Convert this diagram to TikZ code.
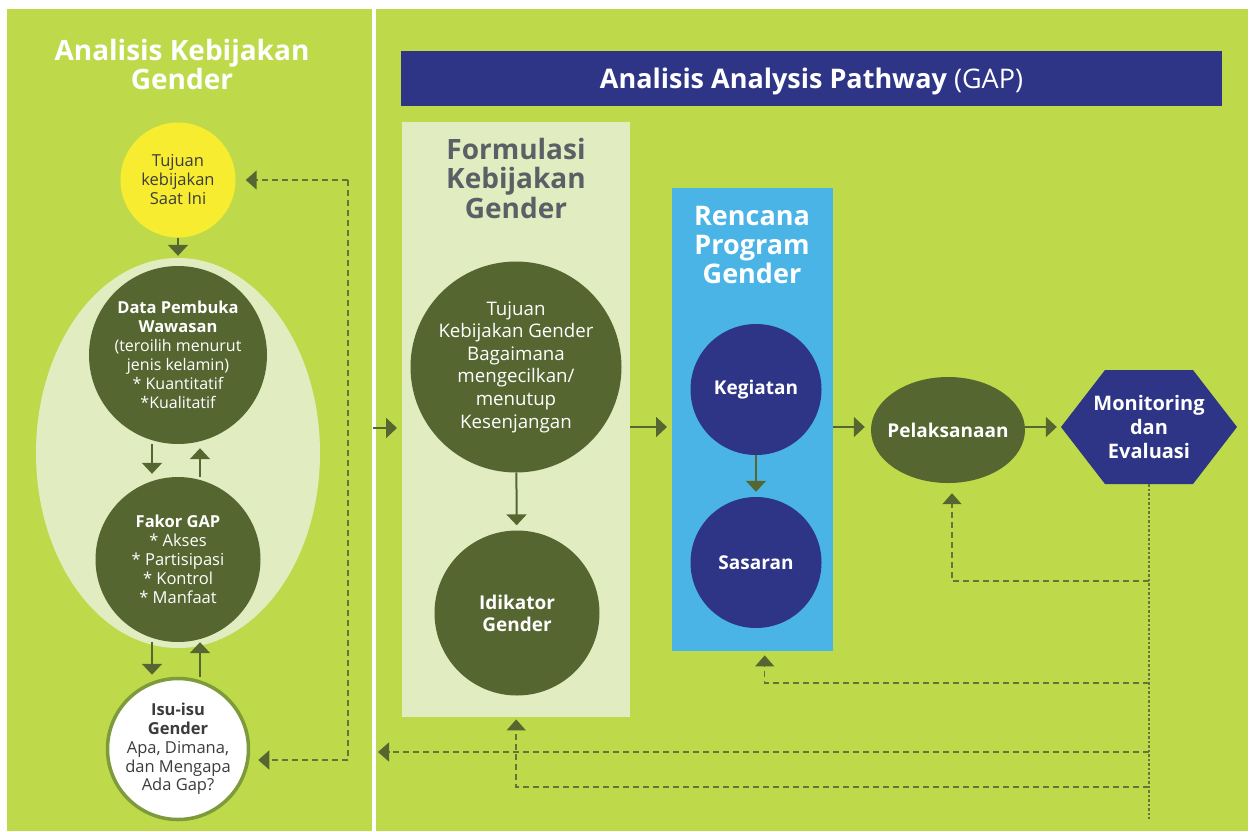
\documentclass[tikz,border=0pt]{standalone}
\usepackage{fontspec}
\setmainfont{Open Sans}
\usetikzlibrary{arrows.meta,shapes.geometric,calc}
\definecolor{panelg}{HTML}{BEDA4B}
\definecolor{lightg}{HTML}{E1EDC1}
\definecolor{oliv}{HTML}{556631}
\definecolor{yell}{HTML}{F7EC30}
\definecolor{navyc}{HTML}{2E3586}
\definecolor{skyc}{HTML}{4AB4E6}
\definecolor{titgray}{HTML}{5B6066}
\definecolor{txtgray}{HTML}{3C3C3C}
\definecolor{ringc}{HTML}{7E9B3C}
\definecolor{dashc}{HTML}{66743C}
\newcommand\mybold[1]{{\fontsize{16.5}{19}\selectfont\bfseries #1}}
\begin{document}
\begin{tikzpicture}[x=1pt,y=-1pt,
  arr/.style={draw=oliv, line width=2pt, -{Triangle[width=20pt,length=11pt]}},
  fb/.style={draw=dashc, line width=1.5pt, dash pattern=on 6pt off 4pt, -{Triangle[width=19pt,length=11pt,color=oliv]}},
  fbline/.style={draw=dashc, line width=1.5pt, dash pattern=on 6pt off 4pt},
  dotv/.style={draw=dashc, line width=1.5pt, dash pattern=on 2.5pt off 2pt},
  disc/.style={circle, inner sep=-6pt, align=center, text=white},
]
\fill[white] (0,0) rectangle (1251,831);
\useasboundingbox (0,0) rectangle (1251,831);
\fill[panelg] (7,9) rectangle (372,831);
\fill[panelg] (376,9) rectangle (1248,831);

% left panel
\node[text=white, align=center, font=\fontsize{28}{26}\selectfont\bfseries] (ltitle) at (182,64) {Analisis Kebijakan\\Gender};
\node[ellipse, fill=lightg, minimum width=284pt, minimum height=390pt, inner sep=0pt] (bigell) at (178,453) {};
\node[disc, fill=yell, minimum size=115pt, text=txtgray, font=\fontsize{16.5}{19}\selectfont] (yel) at (178,180) {Tujuan\\kebijakan\\Saat Ini};
\node[disc, fill=oliv, minimum size=178pt, font=\fontsize{16}{19}\selectfont] (data) at (178,355) {\mybold{Data Pembuka}\\\mybold{Wawasan}\\(teroilih menurut\\jenis kelamin)\\* Kuantitatif\\*Kualitatif};
\node[disc, fill=oliv, minimum size=165pt, font=\fontsize{16.5}{19}\selectfont] (fakor) at (178,559.5) {\mybold{Fakor GAP}\\* Akses\\* Partisipasi\\* Kontrol\\* Manfaat};
\node[disc, fill=white, draw=ringc, line width=3.5pt, minimum size=141pt, text=txtgray, font=\fontsize{16.5}{18.8}\selectfont] (isu) at (178,749) {\mybold{Isu-isu}\\\mybold{Gender}\\Apa, Dimana,\\dan Mengapa\\Ada Gap?};

% right panel
\node[fill=navyc, minimum width=821pt, minimum height=55pt, inner sep=0pt, text height=20pt, text depth=0pt, text=white, font=\fontsize{27}{30}\selectfont] (hdr) at (811.5,78.5) {\textbf{Analisis Analysis Pathway} (GAP)};
\node[fill=lightg, minimum width=228pt, minimum height=595pt, inner sep=0pt, anchor=north west] (form) at (402,122) {};
\node[fill=skyc, minimum width=161pt, minimum height=463pt, inner sep=0pt, anchor=north west] (renc) at (672,188) {};
\node[text=titgray, align=center, font=\fontsize{28}{29.5}\selectfont\bfseries] (formt) at (516,178) {Formulasi\\Kebijakan\\Gender};
\node[text=white, align=center, font=\fontsize{27}{29}\selectfont\bfseries] (renct) at (752,245) {Rencana\\Program\\Gender};
\node[disc, fill=oliv, minimum size=211pt, font=\fontsize{18.7}{22.6}\selectfont] (tuj) at (516,367) {Tujuan\\Kebijakan Gender\\Bagaimana\\mengecilkan/\\menutup\\Kesenjangan};
\node[disc, fill=oliv, minimum size=165pt, font=\fontsize{19}{22}\selectfont\bfseries] (idk) at (517,613) {Idikator\\Gender};
\node[disc, fill=navyc, minimum size=131pt, font=\fontsize{19}{22}\selectfont\bfseries] (keg) at (756,389.5) {Kegiatan};
\node[disc, fill=navyc, minimum size=131pt, font=\fontsize{19}{22}\selectfont\bfseries] (sas) at (756,562.5) {Sasaran};
\node[ellipse, fill=oliv, minimum width=154pt, minimum height=106pt, inner sep=0pt, inner xsep=-12pt, text=white, font=\fontsize{19}{22}\selectfont\bfseries] (pel) at (948,430) {Pelaksanaan};
\fill[navyc] (1061,427) -- (1105,370) -- (1193,370) -- (1237,427) -- (1193,484) -- (1105,484) -- cycle;
\node[minimum width=176pt, minimum height=114pt, inner sep=0pt, text=white, align=center, font=\fontsize{20}{24}\selectfont\bfseries] (mon) at (1149,427) {Monitoring\\dan\\Evaluasi};

% solid arrows
\draw[arr, shorten >=2pt] (yel) -- (bigell.north);
\draw[arr, shorten >=3pt] ([xshift=-26pt]data.south) -- ([xshift=-26pt]fakor.north);
\draw[arr, shorten >=4pt] ([xshift=22pt]fakor.north) -- ([xshift=22pt]data.south);
\draw[arr, shorten >=2pt] ([xshift=-26pt]fakor.south) -- ([xshift=-26pt]isu.north);
\draw[arr] ([xshift=22pt]isu.north) -- ([xshift=22pt]fakor.south);
\coordinate (ein) at (373,428);
\coordinate (ay) at (0,427);
\draw[arr, shorten >=5pt] (ein) -- (ein -| form.west);
\draw[arr, shorten >=5pt] (form.east |- ay) -- (renc.west |- ay);
\draw[arr, shorten >=6pt] (renc.east |- ay) -- (pel.west |- ay);
\draw[arr, shorten >=4pt] (pel.east |- ay) -- (mon.west |- ay);
\draw[arr, shorten >=5pt] (tuj) -- (idk);
\draw[arr, shorten >=5pt] (keg) -- (sas);

% feedback lines
\coordinate (mbot) at (1149,819);
\draw[dotv] (mon.south) -- (mbot);
\coordinate (b1) at (1149,581);
\coordinate (b2) at (1149,683);
\coordinate (b3) at (1149,752);
\coordinate (b4) at (1149,787);
\coordinate (fbL) at (378,752);
\draw[fb, shorten >=10pt] (b1) -| ([xshift=4pt]pel.south);
\draw[fb, shorten >=4pt] (b2) -| ([xshift=12pt]renc.south);
\draw[fb] (b3) -- (fbL);
\draw[fb, shorten >=2pt] (b4) -| (form.south);
\coordinate (lc1) at (348,180);
\coordinate (lc2) at (348,760);
\draw[fbline] (lc1) -- (lc2);
\draw[fb, shorten >=10pt] (lc1) -- (yel.east);
\draw[fb, shorten >=8pt] (lc2) -- (lc2 -| isu.east);
\end{tikzpicture}
\end{document}
